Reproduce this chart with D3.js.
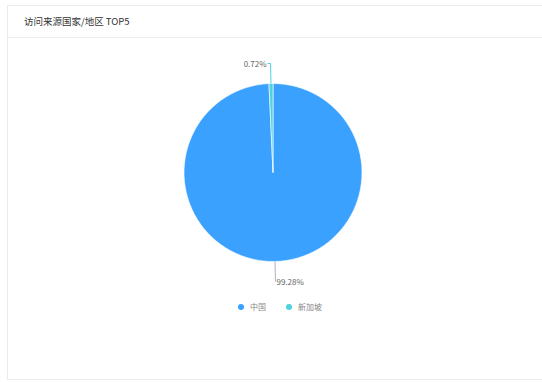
<!DOCTYPE html>
<html lang="zh">
<head>
    <meta charset="UTF-8">
    <title>访问来源国家/地区 TOP5</title>
    <script src="https://cdn.jsdelivr.net/npm/d3@7/dist/d3.min.js"></script>
    <style>
        body { margin: 0; background: #fff; font-family: "Noto Sans CJK SC", "Noto Sans", sans-serif; }
        svg { display: block; }
    </style>
</head>
<body>
    <svg width="542" height="383"></svg>
    <script>
        const title = "访问来源国家/地区 TOP5";
        const names = ["中国", "新加坡"];
        const values = [99.28, 0.72];
        const colors = ["#3ba1ff", "#4fd2e0"];

        const svg = d3.select("svg");

        // card
        svg.append("rect")
            .attr("x", 7.5).attr("y", 5.5)
            .attr("width", 540).attr("height", 374)
            .attr("fill", "#fff")
            .attr("stroke", "#ebebeb");
        svg.append("line")
            .attr("x1", 8).attr("x2", 542)
            .attr("y1", 37.5).attr("y2", 37.5)
            .attr("stroke", "#f0f0f0");
        svg.append("text")
            .attr("x", 24).attr("y", 25)
            .attr("font-size", 9.5)
            .attr("fill", "#333")
            .text(title);

        const cx = 273, cy = 172.5, r = 89;
        const data = names.map((n, i) => ({ name: n, value: values[i] }));

        const pie = d3.pie().sort(null).value(d => d.value);
        const arc = d3.arc().innerRadius(0).outerRadius(r);
        const arcs = pie(data);

        const g = svg.append("g").attr("transform", `translate(${cx},${cy})`);
        g.selectAll("path")
            .data(arcs)
            .join("path")
            .attr("d", arc)
            .attr("fill", (d, i) => colors[i])
            .attr("stroke", "#fff")
            .attr("stroke-width", 0.6);

        // labels with leader lines
        const lineLen = 20;
        arcs.forEach((d, i) => {
            const a = (d.startAngle + d.endAngle) / 2;
            const sx = Math.sin(a), sy = -Math.cos(a);
            const p0 = [sx * r, sy * r];
            const p1 = [sx * (r + lineLen), sy * (r + lineLen)];
            const right = i === 0;
            const p2 = [p1[0] + (right ? 0 : -3), p1[1]];
            g.append("polyline")
                .attr("points", [p0, p1, p2].map(p => p.join(",")).join(" "))
                .attr("fill", "none")
                .attr("stroke", colors[i] === "#3ba1ff" ? "#aab4c0" : colors[i])
                .attr("stroke-width", 1);
            g.append("text")
                .attr("x", right ? p1[0] + 1 : p2[0] - 1)
                .attr("y", p1[1] + (right ? 4 : 3))
                .attr("text-anchor", right ? "start" : "end")
                .attr("font-size", 8)
                .attr("fill", "#666")
                .text(d.data.value.toFixed(2) + "%");
        });

        // legend
        const legendX = [241, 289];
        const lg = svg.append("g");
        names.forEach((n, i) => {
            lg.append("circle")
                .attr("cx", legendX[i]).attr("cy", 307)
                .attr("r", 3)
                .attr("fill", colors[i]);
            lg.append("text")
                .attr("x", legendX[i] + 9).attr("y", 310)
                .attr("font-size", 8)
                .attr("fill", "#888")
                .text(n);
        });
    </script>
</body>
</html>
